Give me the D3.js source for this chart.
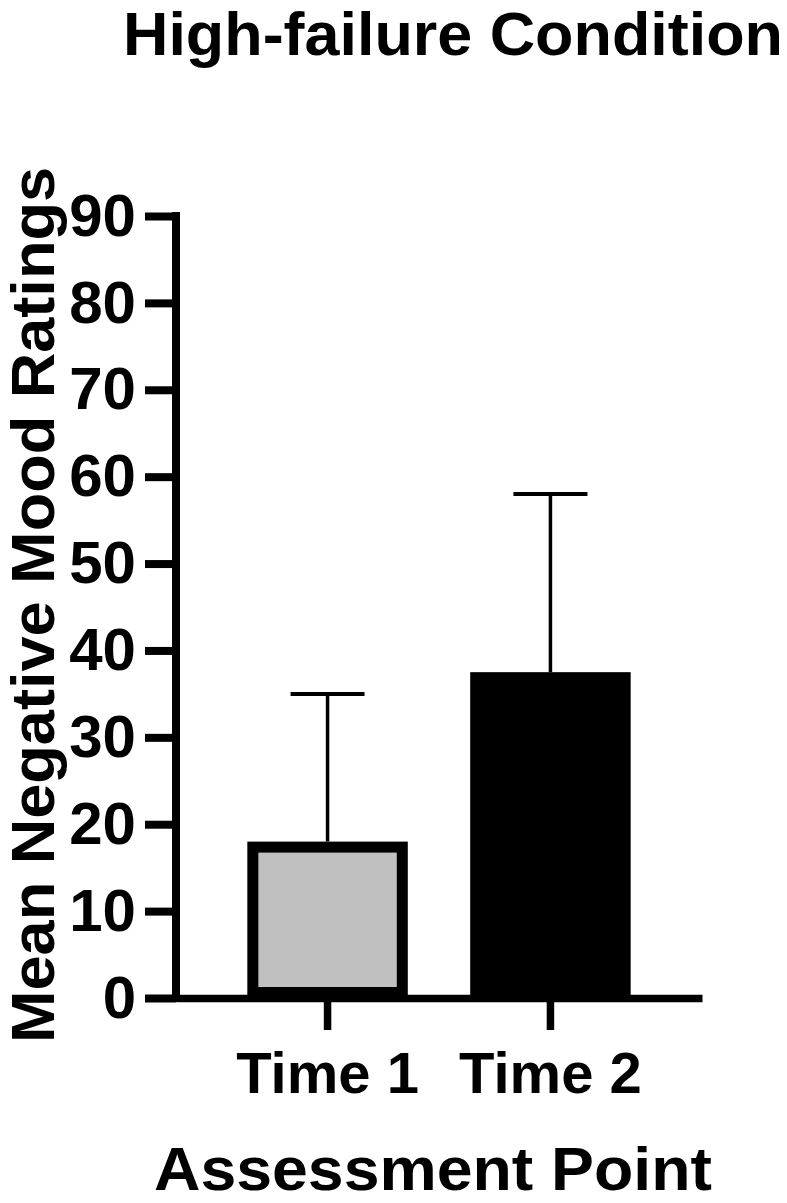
<!DOCTYPE html>
<html>
<head>
<meta charset="utf-8">
<script src="https://cdn.jsdelivr.net/npm/d3@7"></script>
<style>
  body { margin: 0; background: #fff; }
  text { font-family: "Liberation Sans", Arial, sans-serif; font-weight: bold; fill: #000; }
</style>
</head>
<body>
<svg id="vis"></svg>
<script>
// Datos
const categorias = ["Time 1", "Time 2"];
const medias = [18, 37.5];
const desviaciones = [17, 20.5];
const colores = ["#c0c0c0", "#000000"];
const ticksY = [0, 10, 20, 30, 40, 50, 60, 70, 80, 90];

const WIDTH = 787;
const HEIGHT = 1203;
const MARGIN = { top: 216, bottom: 205, left: 176, right: 85 };

const svg = d3.select("#vis")
    .attr("width", WIDTH)
    .attr("height", HEIGHT);

const escalaY = d3.scaleLinear()
    .domain([0, 90])
    .range([HEIGHT - MARGIN.bottom, MARGIN.top]);

const escalaX = d3.scaleBand()
    .domain(categorias)
    .range([MARGIN.left, WIDTH - MARGIN.right])
    .paddingInner(0.28)
    .paddingOuter(0.32);

// Barras
const borde = 11;
svg.append("g")
    .selectAll("rect")
    .data(categorias)
    .join("rect")
    .attr("x", d => escalaX(d) + borde / 2)
    .attr("width", escalaX.bandwidth() - borde)
    .attr("y", (d, i) => escalaY(medias[i]) + borde / 2)
    .attr("height", (d, i) => escalaY(0) - escalaY(medias[i]) - borde)
    .attr("fill", (d, i) => colores[i])
    .attr("stroke", "#000")
    .attr("stroke-width", borde);

// Barras de error
const errores = svg.append("g");
categorias.forEach((c, i) => {
    const cx = escalaX(c) + escalaX.bandwidth() / 2;
    errores.append("line")
        .attr("x1", cx).attr("x2", cx)
        .attr("y1", escalaY(medias[i]))
        .attr("y2", escalaY(medias[i] + desviaciones[i]))
        .attr("stroke", "#000").attr("stroke-width", 3.5);
    errores.append("line")
        .attr("x1", cx - 37).attr("x2", cx + 37)
        .attr("y1", escalaY(medias[i] + desviaciones[i]))
        .attr("y2", escalaY(medias[i] + desviaciones[i]))
        .attr("stroke", "#000").attr("stroke-width", 4);
});

// EJE Y
const ejeY = svg.append("g")
    .attr("transform", `translate(${MARGIN.left}, 0)`)
    .call(d3.axisLeft(escalaY).tickValues(ticksY).tickSize(31).tickSizeOuter(0).tickPadding(9));
ejeY.selectAll("path, line").attr("stroke", "#000").attr("stroke-width", 8);
ejeY.select(".domain").attr("d", `M0,${escalaY(0) + 4}V${escalaY(90) - 4}`);
ejeY.selectAll("text").attr("font-size", 60).attr("font-family", null);

// EJE X
const ejeX = svg.append("g")
    .attr("transform", `translate(0, ${escalaY(0)})`)
    .call(d3.axisBottom(escalaX).tickSize(32).tickSizeOuter(0));
ejeX.selectAll("path, line").attr("stroke", "#000").attr("stroke-width", 7.5);
ejeX.selectAll("line").attr("y1", 4);
ejeX.selectAll("text").attr("font-size", 58).attr("font-family", null)
    .attr("y", 95).attr("dy", 0);

// Títulos
svg.append("text")
    .attr("x", 453)
    .attr("y", 55)
    .attr("text-anchor", "middle")
    .attr("font-size", 61)
    .attr("textLength", 660)
    .attr("lengthAdjust", "spacingAndGlyphs")
    .text("High-failure Condition");

svg.append("text")
    .attr("transform", "translate(54, 605) rotate(-90)")
    .attr("text-anchor", "middle")
    .attr("font-size", 61)
    .attr("textLength", 876)
    .attr("lengthAdjust", "spacingAndGlyphs")
    .text("Mean Negative Mood Ratings");

svg.append("text")
    .attr("x", 433)
    .attr("y", 1190)
    .attr("text-anchor", "middle")
    .attr("font-size", 62)
    .attr("textLength", 558)
    .attr("lengthAdjust", "spacingAndGlyphs")
    .text("Assessment Point");
</script>
</body>
</html>
